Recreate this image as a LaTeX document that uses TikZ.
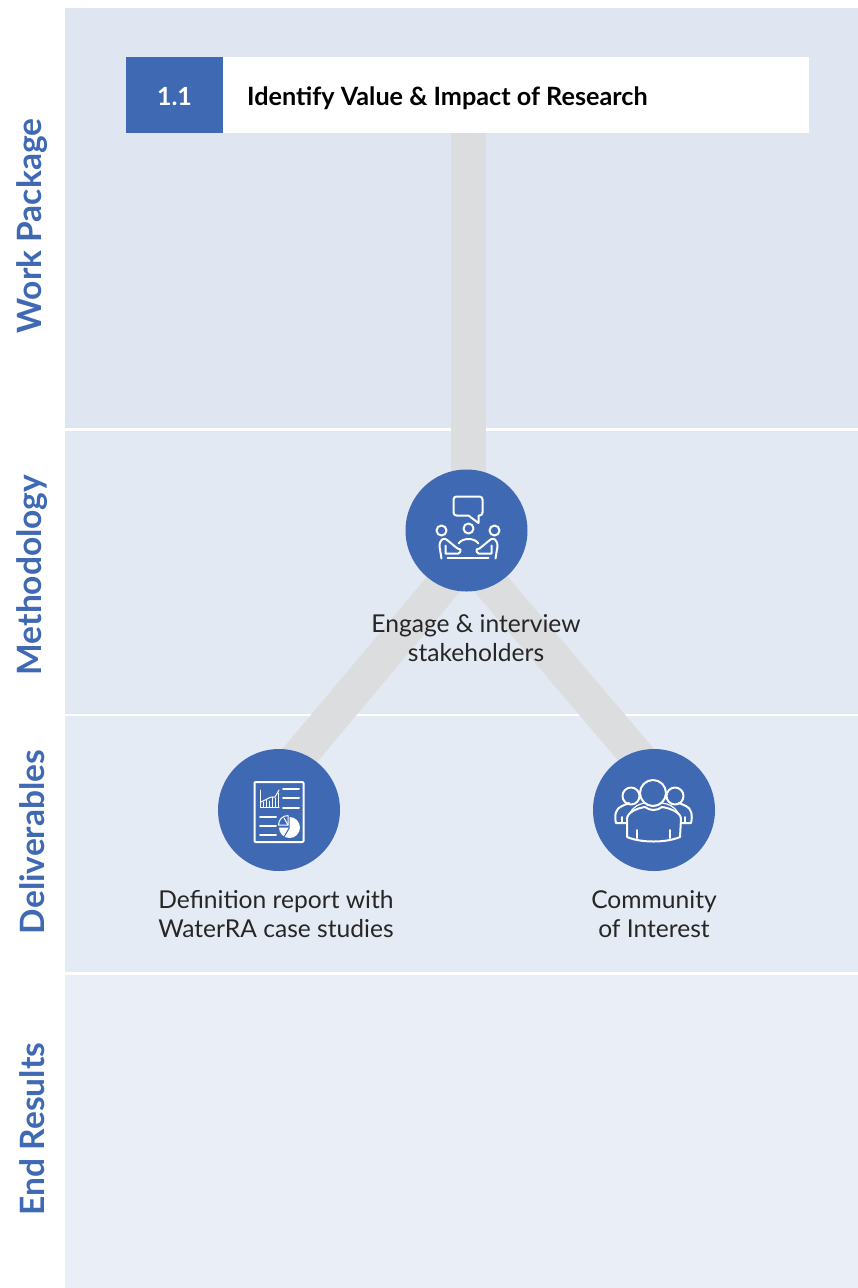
\documentclass[tikz,border=0pt]{standalone}
\usepackage{fontspec}
\setmainfont{Lato}
\usetikzlibrary{calc}
\definecolor{blu}{HTML}{3F69B2}
\definecolor{bandA}{HTML}{DFE6F1}
\definecolor{bandB}{HTML}{E2E9F3}
\definecolor{bandC}{HTML}{E5EBF5}
\definecolor{bandD}{HTML}{E9EEF7}
\definecolor{conn}{HTML}{DCDDDF}
\pgfdeclarelayer{back}
\pgfdeclarelayer{links}
\pgfsetlayers{back,links,main}
\tikzset{
  x=1pt,y=-1pt,
  band/.style={fill=#1,draw=none},
  sidelabel/.style={rotate=90,text=blu,font=\fontsize{33.5}{33.5}\selectfont\bfseries,inner sep=0pt},
  circ/.style={circle,fill=blu,minimum size=122pt,inner sep=0pt},
  lnk/.style={draw=conn,line width=35pt},
  capt/.style={font=\fontsize{24.6}{29}\selectfont,align=center,inner sep=0pt,text=black!85},
  ico/.style={draw=white,line width=2pt,line cap=round,line join=round},
  icothin/.style={draw=white,line width=1pt,line cap=round,line join=round},
}
\begin{document}
\begin{tikzpicture}
\useasboundingbox (0,0) rectangle (858,1288);
\begin{pgfonlayer}{back}
\fill[white] (0,0) rectangle (858,1288);
\fill[band=bandA] (65,8) rectangle (858,428);
\fill[band=bandB] (65,431) rectangle (858,714);
\fill[band=bandC] (65,716) rectangle (858,972);
\fill[band=bandD] (65,975) rectangle (858,1288);
\end{pgfonlayer}
\node[sidelabel] (s1) at (32,226) {Work Package};
\node[sidelabel] (s2) at (32,575) {Methodology};
\node[sidelabel] (s3) at (32,842) {Deliverables};
\node[sidelabel] (s4) at (32,1129) {End Results};
\node[fill=white,minimum width=586pt,minimum height=76pt,inner sep=0pt] (title) at (516,95) {};
\node[fill=blu,minimum width=97pt,minimum height=76pt,inner sep=0pt] (num) at (174.5,95) {};
\node[text=white,inner sep=0pt,font=\fontsize{25}{25}\selectfont\bfseries] (numtext) at (174.5,97) {1.1};
\node[anchor=west,inner sep=0pt,font=\fontsize{25.2}{25.2}\selectfont\bfseries,text=black] (ttl) at (247,98.5) {Identify Value \& Impact of Research};
\node[circ] (m) at (466.5,530.5) {};
\node[circ] (d1) at (279,810) {};
\node[circ] (d2) at (654,810) {};
\node[capt] (c0) at (476,638) {Engage \& interview\\stakeholders};
\node[capt] (c1) at (276,914) {Definition report with\\WaterRA case studies};
\node[capt] (c2) at (654,914) {Community\\of Interest};
\begin{pgfonlayer}{links}
\draw[lnk] (title.south -| 468.5,0) -- (468.5,530);
\draw[lnk] ($(m)+(22,0)$) -- ($(d1)+(-25,0)$);
\draw[lnk] ($(m)+(-21,0)$) -- ($(d2)+(29,0)$);
\end{pgfonlayer}
% meeting icon
\begin{scope}[shift={(m.center)}]
\draw[ico] (2,-15) -- (12,-7.5) -- (12,-15) -- (13,-15) [rounded corners=3pt] -- (16,-15) -- (16,-34) -- (-13,-34) -- (-13,-15) -- (2,-15);
\draw[ico] (-25,0) circle (5);
\draw[ico] (2,-2) circle (5);
\draw[ico] (28,0) circle (5);
\draw[ico] (-8,13) .. controls (-4,7) and (8,7) .. (12,13);
\draw[ico] (-19,27) -- (22,27);
\draw[ico] (-25,28) -- (-27,16) .. controls (-27,9) and (-23,7) .. (-20,9) -- (-9,18) -- (-6,19) .. controls (-6,21) and (-6,22) .. (-8,23) -- (-21,23) -- (-21,15);
\draw[ico] (29,28) -- (31,16) .. controls (31,9) and (27,7) .. (24,9) -- (13,18) -- (10,19) .. controls (10,21) and (10,22) .. (12,23) -- (25,23) -- (25,15);
\end{scope}
% report icon
\begin{scope}[shift={(d1.center)}]
\draw[ico,rounded corners=1pt] (-24.5,-28) rectangle (24.5,32);
\foreach \y in {-21,-12,-2.3} \draw[ico] (4,\y) -- (20,\y);
\foreach \y in {7,16,25} \draw[ico] (-19,\y) -- (-3,\y);
\draw[icothin] (-19,-20) -- (-19,-2.3) -- (0,-2.3);
\foreach \x/\h in {-16/5,-13/7,-10/6,-7/10,-4/9,-1/14}
  \draw[icothin] (\x,-3) -- (\x,-3-\h);
\draw[icothin] (-18,-8) -- (-12,-11) -- (-8,-13) -- (-4,-13) -- (0,-20);
\fill[white] (10.5,17.5) -- (10.5,7) arc[start angle=-90,end angle=180,radius=10.5] -- cycle;
\draw[blu,line width=1pt] (10.5,17.5) -- (5,27);
\draw[icothin] (9,5.5) arc[start angle=270,end angle=180,radius=9.5] -- (9,15) -- cycle;
\draw[icothin] (5,8) -- (9,15);
\end{scope}
% community icon
\begin{scope}[shift={(d2.center)}]
\draw[ico] (-23,-14) circle (8.5);
\draw[ico] (21,-14) circle (8.5);
\draw[ico] (-27,13) -- (-38,13) .. controls (-40,5) and (-38,-2) .. (-32,-4) -- (-25,-7);
\draw[ico] (27,13) -- (37,13) .. controls (39,5) and (37,-2) .. (32,-4) -- (25,-7);
\draw[ico] (-32,7) -- (-32,13);
\draw[ico] (31,7) -- (31,13);
\draw[icothin,fill=blu,line width=1.2pt] (-24,3) .. controls (-20,-4) and (-15,-6) .. (-9,-7) .. controls (-4,-3) and (3,-3) .. (8,-7) .. controls (15,-6) and (20,-4) .. (24,3) -- (24,12) -- (-24,12) -- cycle;
\draw[ico,fill=blu] (-27,27) -- (-27,9) .. controls (-27,2) and (-16,-2) .. (-9,-3) .. controls (-4,1) and (3,1) .. (8,-3) .. controls (15,-2) and (27,2) .. (27,9) -- (26,27) .. controls (12,33) and (-13,33) .. (-27,27) -- cycle;
\draw[ico,fill=blu] (-1,-17) circle (13);
\draw[ico] (-17,20) -- (-17,28);
\draw[ico] (16,20) -- (16,28);
\end{scope}
\end{tikzpicture}
\end{document}
